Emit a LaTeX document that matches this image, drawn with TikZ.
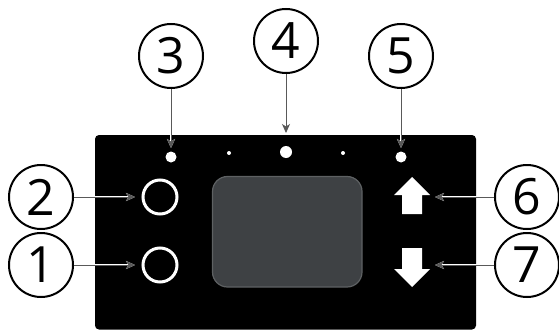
\documentclass[tikz,border=0pt]{standalone}
\usepackage{fontspec}
\setmainfont{Open Sans}
\usetikzlibrary{arrows.meta}
\definecolor{screenfill}{HTML}{3E4144}
\definecolor{screenedge}{HTML}{5E6163}
\begin{document}
\begin{tikzpicture}[x=1pt,y=-1pt,
  callout/.style={circle, draw=black, line width=2, fill=white, minimum size=64, inner sep=0, font=\fontsize{50}{50}\selectfont},
  btn/.style={circle, draw=white, line width=3, minimum size=34, inner sep=0},
  led/.style={circle, fill=white, inner sep=0, outer sep=0, minimum size=#1},
  pointer/.style={line width=0.9, draw=black!65, -{Stealth[length=9,width=8,inset=2.5]},
    preaction={draw=white, line width=2.2, -{Stealth[length=9,width=8,inset=2.5]}}},
]
\useasboundingbox (0,0) rectangle (559,329);
% panel
\fill[black, rounded corners=4] (95,135) rectangle (476,329.5);
% screen
\filldraw[fill=screenfill, draw=screenedge, line width=1.2, rounded corners=15] (212.5,176.5) rectangle (362,287);
% LEDs
\node[led=11] (led3) at (171,157) {};
\node[led=12] (led4) at (286,152) {};
\node[led=11] (led5) at (401,157) {};
\node[led=4] (dotl) at (229,153) {};
\node[led=4] (dotr) at (343,153) {};
% buttons
\node[btn] (b2) at (160,197) {};
\node[btn] (b1) at (160,265) {};
% arrow keys
\fill[white] (412,177) -- (430,195) -- (422,195) -- (422,214) -- (402,214) -- (402,195) -- (394,195) -- cycle;
\fill[white] (402,248) -- (422,248) -- (422,269) -- (430,269) -- (412,287) -- (394,269) -- (402,269) -- cycle;
\coordinate (up) at (435,197);
\coordinate (dn) at (435,265);
% callouts
\node[callout] (c1) at (41,265) {1};
\node[callout] (c2) at (41,197) {2};
\node[callout] (c3) at (171,56) {3};
\node[callout] (c4) at (286,41) {4};
\node[callout] (c5) at (401,56) {5};
\node[callout] (c6) at (527,197) {6};
\node[callout] (c7) at (527,265) {7};
% connectors
\draw[pointer, shorten >=3.5] (c3) -- (led3);
\draw[pointer, shorten >=13] (c4) -- (led4);
\draw[pointer, shorten >=3.5] (c5) -- (led5);
\draw[pointer, shorten >=6.5] (c2) -- (b2);
\draw[pointer, shorten >=6.5] (c1) -- (b1);
\draw[pointer] (c6) -- (up);
\draw[pointer] (c7) -- (dn);
\end{tikzpicture}
\end{document}
